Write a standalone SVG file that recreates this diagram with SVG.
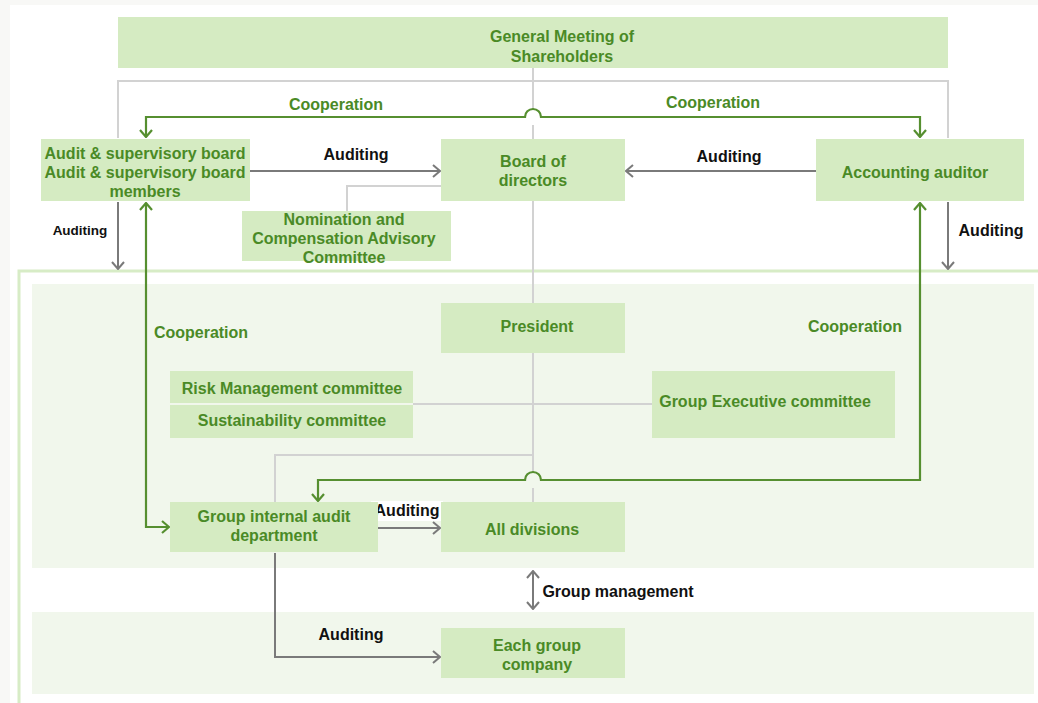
<svg xmlns="http://www.w3.org/2000/svg" width="1038" height="703" viewBox="0 0 1038 703">
<defs>
<style>
.box{fill:#d5ebc2}
.t{font-family:"Liberation Sans",Arial,sans-serif;font-weight:bold;font-size:16px;fill:#4a8a26;text-anchor:middle}
.k{font-family:"Liberation Sans",Arial,sans-serif;font-weight:bold;font-size:16px;fill:#111;text-anchor:middle}
.g{fill:none;stroke:#d2d2d2;stroke-width:2}
.ga{fill:none;stroke:#7a7a7a;stroke-width:2}
.gr{fill:none;stroke:#568f30;stroke-width:2.2}
</style>
<marker id="ag" markerUnits="userSpaceOnUse" viewBox="0 0 10 14" markerWidth="10" markerHeight="14" refX="9" refY="7" orient="auto-start-reverse">
<path d="M2,1 L9,7 L2,13" fill="none" stroke="#7a7a7a" stroke-width="2"/>
</marker>
<marker id="an" markerUnits="userSpaceOnUse" viewBox="0 0 10 14" markerWidth="10" markerHeight="14" refX="9" refY="7" orient="auto-start-reverse">
<path d="M2,1 L9,7 L2,13" fill="none" stroke="#568f30" stroke-width="2.2"/>
</marker>
</defs>
<rect x="0" y="0" width="1038" height="703" fill="#f8f8f6"/>
<rect x="10" y="5" width="1028" height="698" fill="#ffffff"/>
<!-- outer frame and panels -->
<path d="M19,703 V271 H1038" fill="none" stroke="#d7ecc6" stroke-width="3"/>
<rect x="32" y="284" width="1002" height="284" fill="#f1f7ec"/>
<rect x="32" y="612" width="1002" height="82" fill="#f1f7ec"/>

<g id="connectors">
<!-- gray structure lines -->
<path class="g" d="M118,138 V81 H948 V138"/>
<path class="g" d="M533,68 V109 M533,125 V472 M533,488 V502"/>
<path class="g" d="M347,211 V186 H441"/>
<path class="g" d="M413,404 H652"/>
<path class="g" d="M275,502 V455 H533"/>
<!-- gray auditing arrows -->
<path class="ga" d="M250,171 H440" marker-end="url(#ag)"/>
<path class="ga" d="M816,171 H626" marker-end="url(#ag)"/>
<path class="ga" d="M118,202 V269" marker-end="url(#ag)"/>
<path class="ga" d="M948,202 V269" marker-end="url(#ag)"/>
<path class="ga" d="M378,528 H440" marker-end="url(#ag)"/>
<path class="ga" d="M275,553 V657 H440" marker-end="url(#ag)"/>
<path class="ga" d="M533,571 V609" marker-start="url(#ag)" marker-end="url(#ag)"/>
<!-- green cooperation lines -->
<path class="gr" d="M146,137 V117 H525 A8,8 0 0 1 541,117 H920 V137" marker-start="url(#an)" marker-end="url(#an)"/>
<path class="gr" d="M146,203 V527 H169" marker-start="url(#an)" marker-end="url(#an)"/>
<path class="gr" d="M920,203 V480 H541 A8,8 0 0 0 525,480 H318 V501" marker-start="url(#an)" marker-end="url(#an)"/>
<!-- labels -->
<rect x="281" y="95" width="110" height="21" fill="#ffffff"/>
<text class="t" x="336" y="110">Cooperation</text>
<text class="t" x="713" y="108">Cooperation</text>
<text class="t" x="201" y="338">Cooperation</text>
<text class="t" x="855" y="332">Cooperation</text>
<text class="k" x="356" y="160">Auditing</text>
<text class="k" x="729" y="162">Auditing</text>
<text class="k" x="80" y="235" style="font-size:13.5px">Auditing</text>
<text class="k" x="991" y="236">Auditing</text>
<rect x="371" y="501" width="72" height="20" fill="#ffffff"/>
<text class="k" x="407" y="516">Auditing</text>
<text class="k" x="351" y="640">Auditing</text>
<text class="k" x="618" y="597">Group management</text>
</g>

<g id="general-meeting">
<rect class="box" x="118" y="17" width="830" height="51"/>
<text class="t" x="562" y="42">General Meeting of</text>
<text class="t" x="562" y="62">Shareholders</text>
</g>
<g id="audit-board">
<rect class="box" x="41" y="139" width="209" height="62"/>
<text class="t" x="145" y="159">Audit &amp; supervisory board</text>
<text class="t" x="145" y="178">Audit &amp; supervisory board</text>
<text class="t" x="145" y="197">members</text>
</g>
<g id="board-of-directors">
<rect class="box" x="441" y="139" width="184" height="62"/>
<text class="t" x="533" y="167">Board of</text>
<text class="t" x="533" y="186">directors</text>
</g>
<g id="accounting-auditor">
<rect class="box" x="816" y="139" width="208" height="62"/>
<text class="t" x="915" y="178">Accounting auditor</text>
</g>
<g id="nomination">
<rect class="box" x="242" y="211" width="209" height="50"/>
<text class="t" x="344" y="225">Nomination and</text>
<text class="t" x="344" y="244">Compensation Advisory</text>
<text class="t" x="344" y="263">Committee</text>
</g>
<g id="president">
<rect class="box" x="441" y="303" width="184" height="50"/>
<text class="t" x="537" y="332">President</text>
</g>
<g id="risk-committee">
<rect class="box" x="170" y="371" width="243" height="32"/>
<text class="t" x="292" y="394">Risk Management committee</text>
</g>
<g id="sustainability-committee">
<rect class="box" x="170" y="405" width="243" height="33"/>
<text class="t" x="292" y="426">Sustainability committee</text>
</g>
<g id="group-executive">
<rect class="box" x="652" y="371" width="243" height="67"/>
<text class="t" x="765" y="407">Group Executive committee</text>
</g>
<g id="group-internal-audit">
<rect class="box" x="170" y="502" width="208" height="50"/>
<text class="t" x="274" y="522">Group internal audit</text>
<text class="t" x="274" y="541">department</text>
</g>
<g id="all-divisions">
<rect class="box" x="441" y="502" width="184" height="50"/>
<text class="t" x="532" y="535">All divisions</text>
</g>
<g id="each-group-company">
<rect class="box" x="441" y="628" width="184" height="50"/>
<text class="t" x="537" y="651">Each group</text>
<text class="t" x="537" y="670">company</text>
</g>
</svg>
